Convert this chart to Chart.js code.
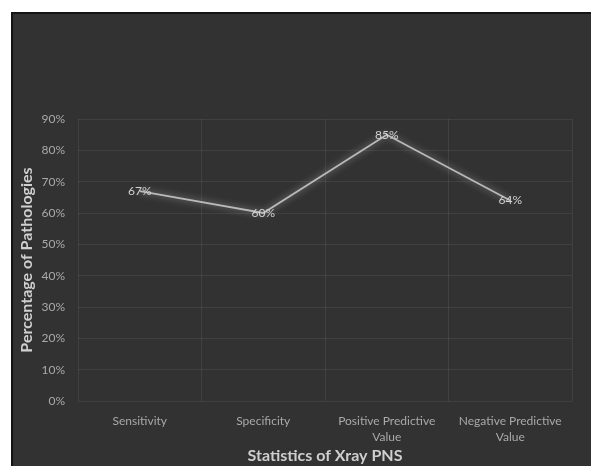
<!DOCTYPE html>
<html>
<head>
<meta charset="utf-8">
<script src="https://cdn.jsdelivr.net/npm/chart.js@4"></script>
<style>
  html, body { margin: 0; padding: 0; background: #fff; overflow: hidden; }
  body { width: 591px; height: 466px; position: relative; }
  #caption { position: absolute; left: 0; top: 0; width: 591px; height: 4px; overflow: hidden; }
  #caption span { position: absolute; left: 36px; top: -21px; font: 18px Arial, "Liberation Sans", sans-serif; color: #222; white-space: nowrap; }
  #frame { position: absolute; left: 11px; top: 12px; width: 600px; height: 470px; background: #323232; border: 2px solid #141414; box-sizing: border-box; }
  #wrap { position: absolute; left: 13px; top: 14px; width: 578px; height: 452px; }
</style>
</head>
<body>
<div id="caption"><span>Imaging findings ........ (Figure 4)</span></div>
<div id="frame"></div>
<div id="wrap"><canvas id="chart"></canvas></div>
<script>
  'use strict';

  var categories = [
    'Sensitivity',
    'Specificity',
    ['Positive Predictive', 'Value'],
    ['Negative Predictive', 'Value']
  ];
  var percentages = [67, 60, 85, 64];
  var yTicks = [0, 10, 20, 30, 40, 50, 60, 70, 80, 90];

  var fontFamily = 'Lato, "Open Sans", sans-serif';
  var gridColor = 'rgba(255,255,255,0.07)';
  var tickColor = '#a9a9a9';
  var titleColor = '#cfcfcf';

  // soft glow under the line, like the original
  var glowPlugin = {
    id: 'glow',
    beforeDatasetDraw: function (chart) {
      var ctx = chart.ctx;
      ctx.save();
      ctx.shadowColor = 'rgba(255,255,255,0.55)';
      ctx.shadowBlur = 7;
    },
    afterDatasetDraw: function (chart) {
      chart.ctx.restore();
    }
  };

  // value labels centred on each point
  var labelPlugin = {
    id: 'pointLabels',
    afterDatasetsDraw: function (chart) {
      var ctx = chart.ctx;
      var meta = chart.getDatasetMeta(0);
      ctx.save();
      ctx.font = '12px ' + fontFamily;
      ctx.fillStyle = '#d2d2d2';
      ctx.textAlign = 'center';
      ctx.textBaseline = 'middle';
      meta.data.forEach(function (pt, i) {
        ctx.fillText(percentages[i] + '%', pt.x, pt.y);
      });
      ctx.restore();
    }
  };

  var ctx = document.getElementById('chart').getContext('2d');
  window.statsChart = new Chart(ctx, {
    type: 'line',
    data: {
      labels: categories,
      datasets: [{
        data: percentages,
        borderColor: '#b9b9b9',
        borderWidth: 1.8,
        pointRadius: 0,
        tension: 0,
        fill: false
      }]
    },
    options: {
      responsive: true,
      maintainAspectRatio: false,
      animation: false,
      layout: { padding: { top: 105, right: 19, left: 0, bottom: 0 } },
      plugins: {
        legend: { display: false },
        tooltip: { enabled: false }
      },
      scales: {
        x: {
          offset: true,
          grid: { offset: true, color: gridColor, drawTicks: false },
          border: { display: false },
          ticks: {
            color: tickColor,
            padding: 12,
            maxRotation: 0,
            font: { family: fontFamily, size: 12, lineHeight: 1.35 }
          },
          title: {
            display: true,
            text: 'Statistics of Xray PNS',
            color: titleColor,
            padding: { top: 0, bottom: 1 },
            font: { family: fontFamily, size: 16, weight: 'bold' }
          },
          afterFit: function (scale) { scale.height = 65; }
        },
        y: {
          min: 0,
          max: 90,
          afterBuildTicks: function (scale) {
            scale.ticks = yTicks.map(function (v) { return { value: v }; });
          },
          grid: { color: gridColor, drawTicks: false },
          border: { display: false },
          ticks: {
            color: tickColor,
            padding: 13,
            font: { family: fontFamily, size: 12 },
            callback: function (v) { return v + '%'; }
          },
          title: {
            display: true,
            text: 'Percentage of Pathologies',
            color: titleColor,
            padding: { top: 4, bottom: 0 },
            font: { family: fontFamily, size: 16, weight: 'bold' }
          },
          afterFit: function (scale) { scale.width = 65; }
        }
      }
    },
    plugins: [glowPlugin, labelPlugin]
  });
</script>
</body>
</html>
